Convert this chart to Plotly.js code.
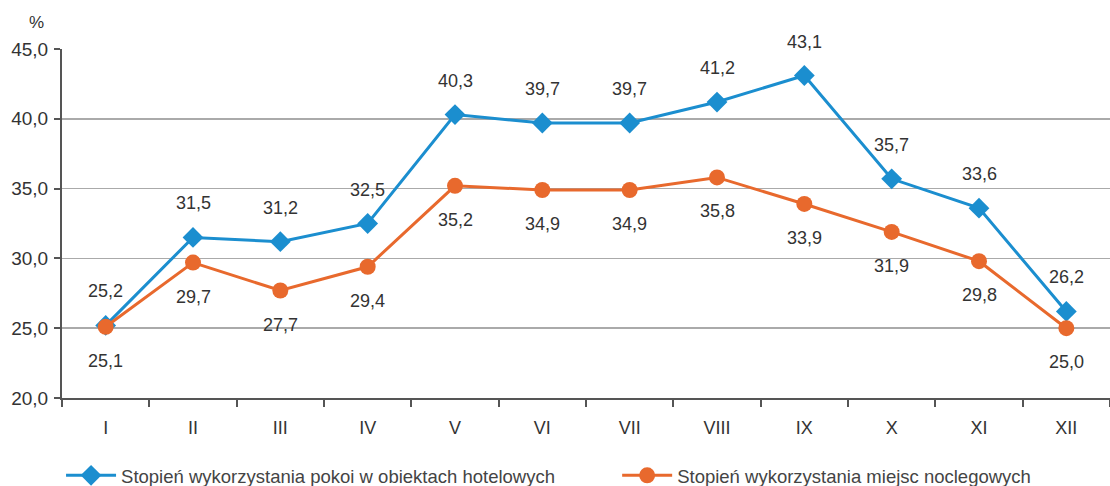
<!DOCTYPE html>
<html><head><meta charset="utf-8">
<script src="https://cdn.plot.ly/plotly-3.0.1.min.js"></script>
<style>html,body{margin:0;padding:0;background:#fff}#c{width:1110px;height:486px}</style>
</head><body><div id="c"></div>
<script>
const months = ['I','II','III','IV','V','VI','VII','VIII','IX','X','XI','XII'];
const rooms = [25.2,31.5,31.2,32.5,40.3,39.7,39.7,41.2,43.1,35.7,33.6,26.2];
const beds = [25.1,29.7,27.7,29.4,35.2,34.9,34.9,35.8,33.9,31.9,29.8,25.0];
const nameRooms = 'Stopień wykorzystania pokoi w obiektach hotelowych';
const nameBeds = 'Stopień wykorzystania miejsc noclegowych';
const blue = '#1b8ecf', orange = '#e8692d';
const fmt = v => v.toFixed(1).replace('.', ',');
const fam = 'Liberation Sans, Arial, sans-serif';
const font = {family:fam, size:18, color:'#333'};
const ann = [];
months.forEach((m,i)=>{
  ann.push({x:m,y:rooms[i],text:fmt(rooms[i]),showarrow:false,yshift:34,font:font});
  ann.push({x:m,y:beds[i],text:fmt(beds[i]),showarrow:false,yshift:-34,font:font});
});
ann.push({xref:'paper',yref:'paper',x:-0.033,y:1.077,xanchor:'left',yanchor:'middle',text:'%',showarrow:false,font:{family:fam,size:17,color:'#333'}});
const traces = [
  {x:months,y:rooms,name:nameRooms,type:'scatter',mode:'lines+markers',legend:'legend',
   line:{color:blue,width:3},marker:{symbol:'diamond',size:16,color:blue}},
  {x:months,y:beds,name:nameBeds,type:'scatter',mode:'lines+markers',legend:'legend2',
   line:{color:orange,width:3},marker:{symbol:'circle',size:16,color:orange}}
];
const legFont = {family:fam,size:18.5,color:'#444'};
const layout = {
  width:1110,height:486,margin:{l:62,r:0,t:49,b:88,autoexpand:false},
  paper_bgcolor:'#fff',plot_bgcolor:'#fff',font:font,showlegend:true,
  xaxis:{type:'category',range:[-0.5,11.5],showline:true,linecolor:'#555',linewidth:2,
    ticks:'outside',tickson:'boundaries',ticklen:7,tickwidth:2,tickcolor:'#555',
    showgrid:false,ticklabelstandoff:12,tickfont:font},
  yaxis:{range:[20,45],dtick:5,tickformat:'.1f',showline:true,linecolor:'#555',linewidth:2,
    ticks:'outside',ticklen:6,tickwidth:2,tickcolor:'#555',gridcolor:'#aaa',gridwidth:1.5,
    zeroline:false,tickfont:{family:fam,size:19,color:'#333'},ticklabelstandoff:2},
  separators:', ',
  legend:{orientation:'h',xref:'container',yref:'container',x:0.055,y:0.021,xanchor:'left',yanchor:'middle',itemwidth:50,font:legFont},
  legend2:{orientation:'h',xref:'container',yref:'container',x:0.556,y:0.021,xanchor:'left',yanchor:'middle',itemwidth:50,font:legFont},
  annotations:ann
};
Plotly.newPlot('c',traces,layout,{displayModeBar:false,staticPlot:true});
</script></body></html>
